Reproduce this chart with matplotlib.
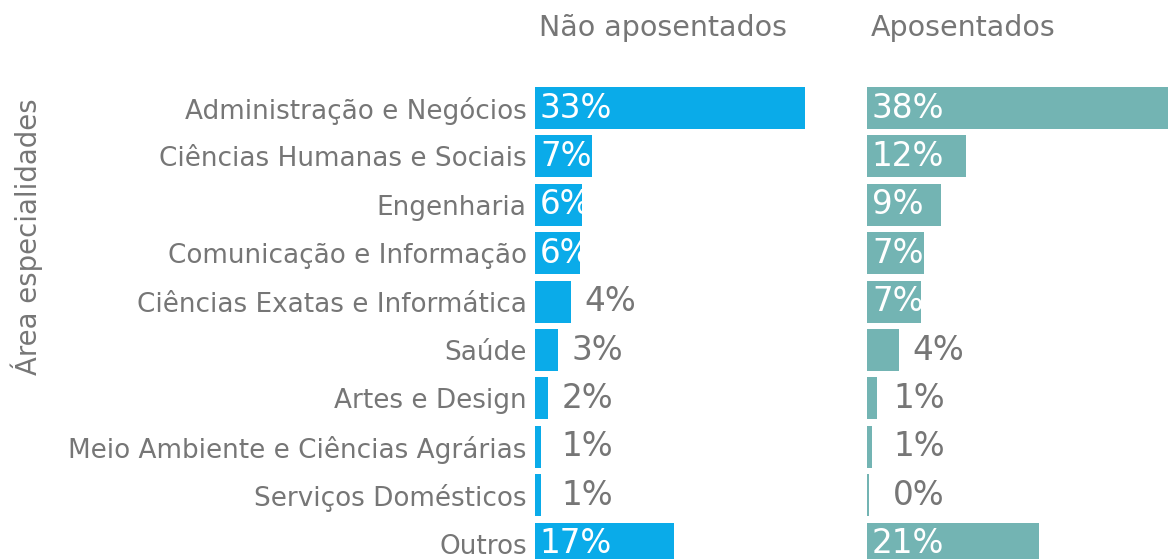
import matplotlib.pyplot as plt

areas = ["Administração e Negócios", "Ciências Humanas e Sociais", "Engenharia",
         "Comunicação e Informação", "Ciências Exatas e Informática", "Saúde",
         "Artes e Design", "Meio Ambiente e Ciências Agrárias",
         "Serviços Domésticos", "Outros"]
nao_aposentados = [33.0, 7.0, 5.7, 5.5, 4.4, 2.8, 1.6, 0.7, 0.7, 17.0]
nao_rotulos = ["33%", "7%", "6%", "6%", "4%", "3%", "2%", "1%", "1%", "17%"]
aposentados = [38.0, 12.1, 9.0, 7.0, 6.6, 3.9, 1.2, 0.6, 0.3, 21.0]
apo_rotulos = ["38%", "12%", "9%", "7%", "7%", "4%", "1%", "1%", "0%", "21%"]

cinza = "#767676"
plt.rcParams['font.family'] = ['DejaVu Sans']

fig = plt.figure(figsize=(11.68, 5.59), dpi=100)

W, H = 1168, 559
escala = 8.18  # px por ponto percentual
topo, base = 80, 559
ylim = ((base - 108) / 48.4, (topo - 108) / 48.4)


def painel(x0, largura, valores, rotulos, cor, titulo):
    ax = fig.add_axes([x0 / W, 0, largura / W, (base - topo) / H])
    ax.barh(range(len(valores)), valores, height=0.87, color=cor)
    ax.set_xlim(0, largura / escala)
    ax.set_ylim(*ylim)
    for i, (v, r) in enumerate(zip(valores, rotulos)):
        if v >= 5:
            ax.text(0.6, i, r, color="white", fontsize=23.5, va="center", ha="left")
        else:
            ax.text(max(v + 8, 9.5), i, r, color=cinza, fontsize=23.5,
                    va="center", ha="right")
    for s in ax.spines.values():
        s.set_visible(False)
    ax.set_xticks([])
    ax.tick_params(axis="y", length=0, pad=6)
    fig.text(x0 / W + 0.003, 1 - 28 / H, titulo, color=cinza, fontsize=20.5,
             va="center", ha="left")
    return ax


ax1 = painel(535, 300, nao_aposentados, nao_rotulos, "#0AABE9", "Não aposentados")
ax1.set_yticks(range(len(areas)))
ax1.set_yticklabels(areas, color=cinza, fontsize=18.9)

ax2 = painel(867, 301, aposentados, apo_rotulos, "#73B4B3", "Aposentados")
ax2.set_yticks([])

fig.text(27 / W, 1 - 237 / H, "Área especialidades", color=cinza, fontsize=19.8,
         rotation=90, va="center", ha="center")

fig.savefig("out.png", dpi=100)
